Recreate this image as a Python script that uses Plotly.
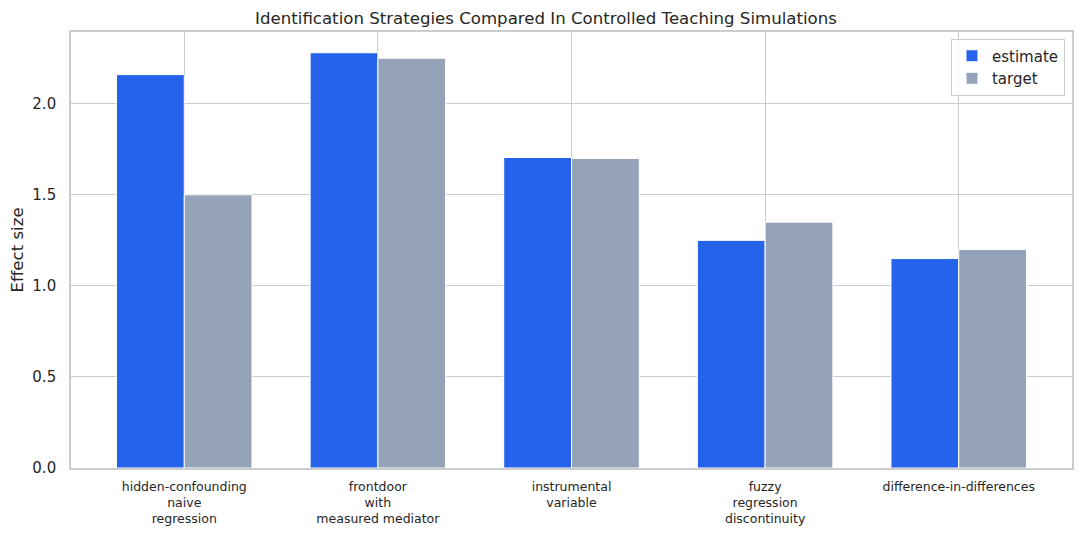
import plotly.graph_objects as go

# Strategy labels and effect sizes
strategies = [
    'hidden-confounding<br>naive<br>regression',
    'frontdoor<br>with<br>measured mediator',
    'instrumental<br>variable',
    'fuzzy<br>regression<br>discontinuity',
    'difference-in-differences',
]
estimate = [2.16, 2.28, 1.705, 1.25, 1.15]
target = [1.50, 2.25, 1.70, 1.35, 1.20]
y_ticks = [0.0, 0.5, 1.0, 1.5, 2.0]


def main():
    font_family = 'DejaVu Sans'
    text_color = '#262626'
    grid_color = '#cccccc'

    x_pos = list(range(len(strategies)))

    fig = go.Figure()
    fig.add_trace(go.Bar(
        x=x_pos, y=estimate, name='estimate',
        marker=dict(color='#2563eb', line=dict(color='white', width=1)),
    ))
    fig.add_trace(go.Bar(
        x=x_pos, y=target, name='target',
        marker=dict(color='#94a3b8', line=dict(color='white', width=1)),
    ))

    # page body keeps an 8px margin, so the figure is a bit smaller than the window
    fig.update_layout(
        width=1076, height=526,
        barmode='group', bargap=0.3, bargroupgap=0,
        plot_bgcolor='white', paper_bgcolor='white',
        margin=dict(l=63, r=12, t=24, b=66),
        font=dict(family=font_family, color=text_color, size=15),
        title=dict(
            text='Identification Strategies Compared In Controlled Teaching Simulations',
            x=0.5, xanchor='center', y=0.981, yanchor='middle',
            font=dict(size=16.6, color=text_color),
        ),
        legend=dict(
            x=0.993, y=0.985, xanchor='right', yanchor='top',
            bgcolor='rgba(255,255,255,0.8)', bordercolor=grid_color, borderwidth=1,
            font=dict(size=15, color=text_color),
        ),
        showlegend=True,
    )

    fig.update_xaxes(
        range=[-0.585, len(strategies) - 1 + 0.585],
        tickmode='array', tickvals=x_pos, ticktext=strategies,
        tickfont=dict(size=12.5), ticklabelstandoff=6, automargin=False,
        showgrid=True, gridcolor=grid_color, gridwidth=1.3,
        showline=True, linecolor=grid_color, linewidth=1.6, mirror=True,
        ticks='', zeroline=False,
    )
    fig.update_yaxes(
        range=[0, 2.394],
        tickmode='array', tickvals=y_ticks, ticktext=['{:.1f}'.format(v) for v in y_ticks],
        tickfont=dict(size=15), ticklabelstandoff=10, automargin=False,
        title=dict(text='Effect size', font=dict(size=16.6), standoff=6),
        showgrid=True, gridcolor=grid_color, gridwidth=1.3,
        showline=True, linecolor=grid_color, linewidth=1.6, mirror=True,
        ticks='', zeroline=False,
    )

    fig.write_html('out.html')


if __name__ == '__main__':
    main()
